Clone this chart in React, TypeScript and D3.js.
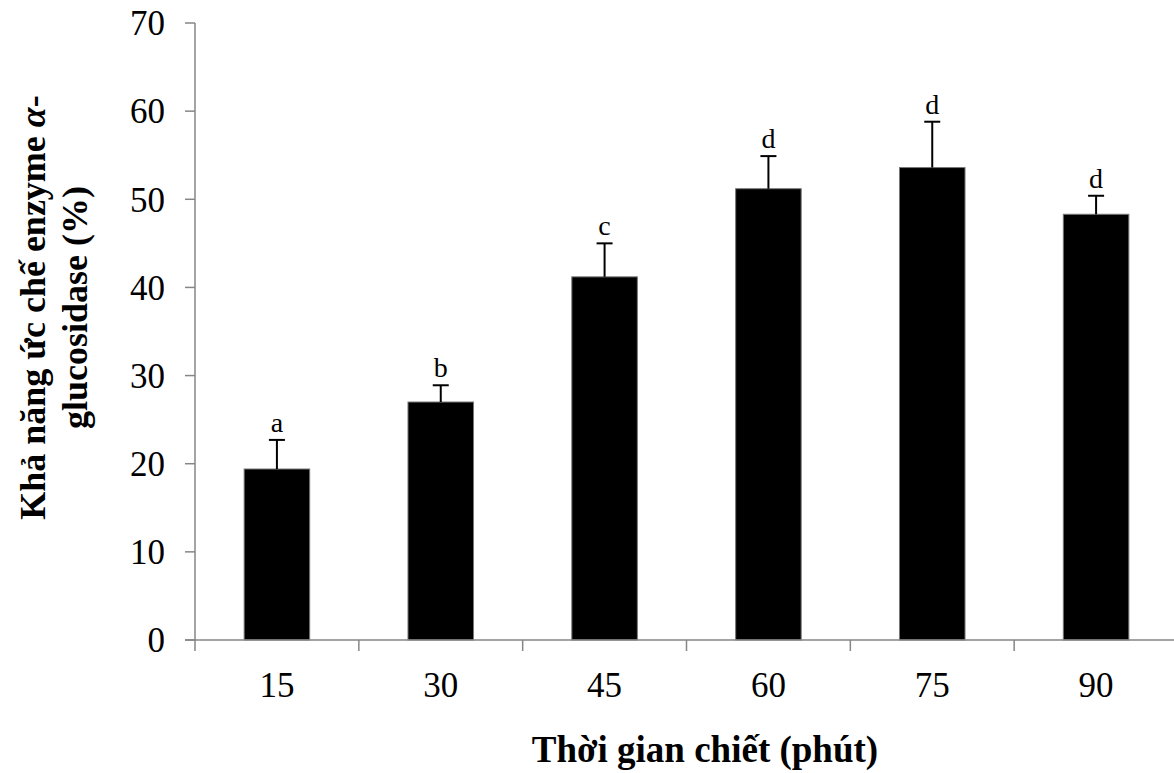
import React from 'react';
import * as d3 from 'd3';

// chart data
const categories = ['15', '30', '45', '60', '75', '90'];
const means = [19.4, 27.0, 41.2, 51.2, 53.6, 48.3];
const errors = [3.3, 1.9, 3.8, 3.7, 5.2, 2.1];
const letters = ['a', 'b', 'c', 'd', 'd', 'd'];
const yTicks = [0, 10, 20, 30, 40, 50, 60, 70];

const W = 1174;
const H = 773;
const margin = { top: 23, right: -4, bottom: 133, left: 195 };
const font = '"Liberation Serif", "Times New Roman", serif';
const axisColor = '#868686';

export default function App() {
    const x = d3.scaleBand<string>()
        .domain(categories)
        .range([margin.left, W - margin.right])
        .padding(0);
    const y = d3.scaleLinear()
        .domain([0, 70])
        .range([H - margin.bottom, margin.top]);

    const barW = x.bandwidth() * 0.4;
    const capW = 16;
    const y0 = y(0);
    const boundaries = categories.map(c => x(c) as number);

    return (
        <svg width={W} height={H} style={{ position: 'absolute', left: 0, top: 0, background: '#fff' }}>
            {/* bars */}
            {categories.map((c, i) => {
                const cx = (x(c) as number) + x.bandwidth() / 2;
                const top = y(means[i] + errors[i]);
                return (
                    <g key={c}>
                        <rect
                            x={cx - barW / 2}
                            y={y(means[i])}
                            width={barW}
                            height={y0 - y(means[i])}
                            fill="#000"
                            stroke="#777"
                            strokeWidth={1}
                        />
                        <line x1={cx} x2={cx} y1={y(means[i])} y2={top} stroke="#000" strokeWidth={2} />
                        <line x1={cx - capW / 2} x2={cx + capW / 2} y1={top} y2={top} stroke="#000" strokeWidth={2} />
                        <text
                            x={cx}
                            y={top - 8}
                            textAnchor="middle"
                            fontFamily={font}
                            fontSize={28}
                            fill="#000"
                        >{letters[i]}</text>
                    </g>
                );
            })}

            {/* y axis */}
            <line x1={margin.left} x2={margin.left} y1={y(70)} y2={y0} stroke={axisColor} strokeWidth={1.5} />
            {yTicks.map(t => (
                <g key={t}>
                    <line x1={margin.left - 10} x2={margin.left} y1={y(t)} y2={y(t)} stroke={axisColor} strokeWidth={1.5} />
                    <text
                        x={margin.left - 30}
                        y={y(t)}
                        dy="0.35em"
                        textAnchor="end"
                        fontFamily={font}
                        fontSize={35}
                        fill="#000"
                    >{t}</text>
                </g>
            ))}

            {/* x axis */}
            <line x1={margin.left - 10} x2={W} y1={y0} y2={y0} stroke={axisColor} strokeWidth={1.5} />
            {boundaries.map((b, i) => (
                <line key={i} x1={b} x2={b} y1={y0} y2={y0 + 11} stroke={axisColor} strokeWidth={1.5} />
            ))}
            {categories.map(c => (
                <text
                    key={c}
                    x={(x(c) as number) + x.bandwidth() / 2}
                    y={697}
                    textAnchor="middle"
                    fontFamily={font}
                    fontSize={35}
                    fill="#000"
                >{c}</text>
            ))}

            {/* axis titles */}
            <text
                x={705}
                y={762}
                textAnchor="middle"
                fontFamily={font}
                fontSize={37}
                fontWeight="bold"
                fill="#000"
            >Thời gian chiết (phút)</text>
            <g transform={`translate(45, ${(y(70) + y0) / 2 - 24}) rotate(-90)`}>
                <text textAnchor="middle" fontFamily={font} fontSize={36} fontWeight="bold" fill="#000">
                    Khả năng ức chế enzyme <tspan fontStyle="italic">α</tspan>-
                </text>
                <text y={42} textAnchor="middle" fontFamily={font} fontSize={36} fontWeight="bold" fill="#000">
                    glucosidase (%)
                </text>
            </g>
        </svg>
    );
}
